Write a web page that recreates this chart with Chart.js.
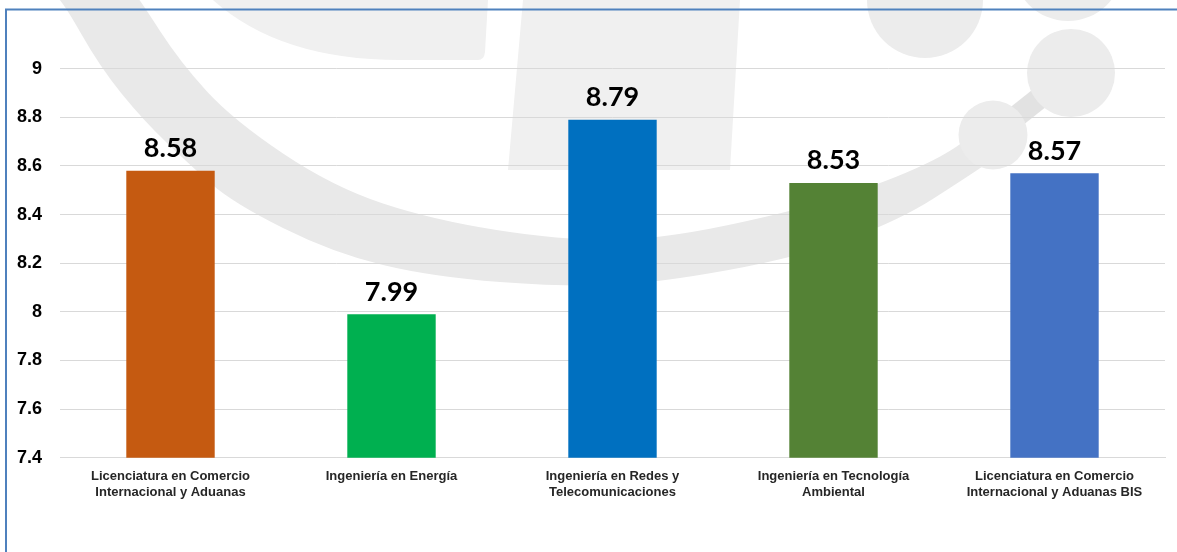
<!DOCTYPE html>
<html>
<head>
<meta charset="utf-8">
<script src="https://cdn.jsdelivr.net/npm/chart.js@4"></script>
<style>
  html, body { margin: 0; padding: 0; background: #ffffff; }
  #wrap { position: relative; width: 1177px; height: 552px; }
  canvas { display: block; }
</style>
</head>
<body>
<div id="wrap"><canvas id="c" width="1177" height="552"></canvas></div>
<script>
// ---- data ----
const categories = [
  ["Licenciatura en Comercio", "Internacional y Aduanas"],
  "Ingeniería en Energía",
  ["Ingeniería en Redes y", "Telecomunicaciones"],
  ["Ingeniería en Tecnología", "Ambiental"],
  ["Licenciatura en Comercio", "Internacional y Aduanas BIS"]
];
const values = [8.58, 7.99, 8.79, 8.53, 8.57];
const barColors = ["#C55A11", "#00B050", "#0070C0", "#548235", "#4472C4"];
const yMin = 7.4, yMax = 9.2, yStep = 0.2, yTopLabel = 9;

// ---- background watermark + frame ----
function smooth(ctx, pts, first) {
  if (first) ctx.moveTo(pts[0][0], pts[0][1]); else ctx.lineTo(pts[0][0], pts[0][1]);
  for (let i = 1; i < pts.length - 1; i++) {
    const mx = (pts[i][0] + pts[i + 1][0]) / 2, my = (pts[i][1] + pts[i + 1][1]) / 2;
    ctx.quadraticCurveTo(pts[i][0], pts[i][1], mx, my);
  }
  const l = pts[pts.length - 1];
  ctx.lineTo(l[0], l[1]);
}
const backdrop = {
  id: 'backdrop',
  beforeDraw(chart) {
    const ctx = chart.ctx;
    ctx.save();
    ctx.fillStyle = '#ffffff';
    ctx.fillRect(0, 0, chart.width, chart.height);
    // top-left light shape
    ctx.fillStyle = '#f0f0f0';
    ctx.beginPath();
    ctx.moveTo(213, 0);
    ctx.quadraticCurveTo(280, 60, 400, 60);
    ctx.lineTo(478, 60);
    ctx.quadraticCurveTo(484, 60, 485, 52);
    ctx.lineTo(488, 0);
    ctx.closePath();
    ctx.fill();
    // slanted block
    ctx.beginPath();
    ctx.moveTo(523, 0); ctx.lineTo(740, 0); ctx.lineTo(730, 170); ctx.lineTo(508, 170);
    ctx.closePath();
    ctx.fill();
    // ring band
    ctx.fillStyle = '#e9e9e9';
    const outer = [[55,-5],[62,0],[100,67],[143,120],[190,165],[233,203],[333,253],[433,277],[567,287],[657,283],[800,257],[900,220],[967,177],[995,158]];
    const inner = [[985,122],[967,143],[900,177],[800,210],[657,240],[560,240],[433,220],[333,187],[233,120],[180,62],[140,0],[135,-5]];
    ctx.beginPath();
    smooth(ctx, outer, true);
    smooth(ctx, inner, false);
    ctx.closePath();
    ctx.fill();
    // connector
    ctx.strokeStyle = '#e2e2e2';
    ctx.lineWidth = 22;
    ctx.beginPath(); ctx.moveTo(993, 135); ctx.lineTo(1071, 73); ctx.stroke();
    // circles
    ctx.fillStyle = '#ececec';
    [[925, 0, 58], [1068, -34, 55], [1071, 73, 44], [993, 135, 34.5]].forEach(c => {
      ctx.beginPath(); ctx.arc(c[0], c[1], c[2], 0, Math.PI * 2); ctx.fill();
    });
    // frame
    ctx.strokeStyle = '#4F81BD';
    ctx.lineWidth = 2;
    ctx.beginPath();
    ctx.moveTo(6, 552); ctx.lineTo(6, 9.5); ctx.lineTo(1177, 9.5);
    ctx.stroke();
    ctx.restore();
  }
};

const valueLabels = {
  id: 'valueLabels',
  afterDatasetsDraw(chart) {
    const ctx = chart.ctx;
    const meta = chart.getDatasetMeta(0);
    ctx.save();
    ctx.font = 'bold 27px Lato, "Open Sans", sans-serif';
    ctx.fillStyle = '#000000';
    ctx.textAlign = 'center';
    ctx.textBaseline = 'alphabetic';
    meta.data.forEach((bar, i) => {
      ctx.fillText(values[i].toFixed(2), bar.x, bar.y - 13.5);
    });
    ctx.restore();
  }
};

new Chart(document.getElementById('c'), {
  type: 'bar',
  data: {
    labels: categories,
    datasets: [{
      data: values,
      backgroundColor: barColors,
      borderWidth: 0,
      categoryPercentage: 1.0,
      barPercentage: 0.4
    }]
  },
  options: {
    responsive: false,
    animation: false,
    devicePixelRatio: 1,
    layout: { padding: { top: 20, right: 12, bottom: 0, left: 0 } },
    plugins: { legend: { display: false }, tooltip: { enabled: false } },
    scales: {
      y: {
        min: yMin, max: yMax,
        afterFit: s => { s.width = 60; s.paddingTop = 0; s.paddingBottom = 0; },
        ticks: {
          stepSize: yStep,
          padding: 18,
          color: '#000000',
          font: { family: '"Liberation Sans", Arial, sans-serif', size: 18, weight: 'bold' },
          callback: v => (v > yTopLabel + 0.05 ? '' : String(Number(v.toFixed(1))))
        },
        grid: {
          drawTicks: false,
          color: c => (c.tick && c.tick.value > yTopLabel + 0.05 ? 'rgba(0,0,0,0)' : '#D9D9D9'),
          lineWidth: 1
        },
        border: { display: false }
      },
      x: {
        afterFit: s => { s.height = 94.3; s.paddingLeft = 0; s.paddingRight = 0; },
        ticks: {
          padding: 10,
          color: '#262626',
          maxRotation: 0,
          autoSkip: false,
          font: { family: '"Liberation Sans", Arial, sans-serif', size: 13, weight: 'bold', lineHeight: 1.27 }
        },
        grid: { display: false, drawTicks: false },
        border: { display: true, color: '#D9D9D9', width: 1 }
      }
    }
  },
  plugins: [backdrop, valueLabels]
});
</script>
</body>
</html>
